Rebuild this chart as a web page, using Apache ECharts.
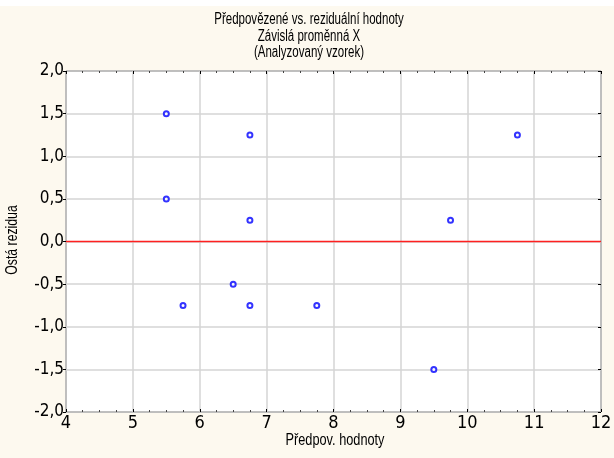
<!DOCTYPE html>
<html><head><meta charset="utf-8">
<script src="https://cdn.jsdelivr.net/npm/echarts@6/dist/echarts.min.js"></script>
<style>html,body{margin:0;padding:0;background:#fdf9ef}#c{width:614px;height:458px}</style>
</head><body><div id="c"></div>
<script>
var titleLines = ["Předpovězené vs. reziduální hodnoty", "Závislá proměnná X", "(Analyzovaný vzorek)"];
var xName = "Předpov. hodnoty";
var yName = "Ostá rezidua";
var predicted = [5.5, 5.5, 6.75, 6.75, 5.75, 6.5, 6.75, 7.75, 9.5, 9.75, 10.75];
var residuals = [1.5, 0.5, 1.25, 0.25, -0.75, -0.5, -0.75, -0.75, -1.5, 0.25, 1.25];
var refLine = 0;
var xRange = [4, 12];
var yRange = [-2, 2];
var FONT = "'Liberation Sans', Arial, sans-serif";
var TICKFONT = "'DejaVu Sans Condensed', 'Liberation Sans', sans-serif";

var pts = predicted.map(function (x, i) { return [x, residuals[i]]; });
var refPts = xRange.map(function (x) { return [x, refLine]; });

function txt(s, x, y, size, sx, rot) {
  return { type: 'text', x: x, y: y, scaleX: sx, rotation: rot || 0, z: 50,
    style: { text: s, textAlign: 'center', textVerticalAlign: 'middle',
      font: size + 'px ' + FONT, fill: '#000' } };
}
var graphics = [{ type: 'rect', x: 0, y: 0, shape: { width: 614, height: 6 }, style: { fill: '#ffffff' }, z: 100 }];
titleLines.forEach(function (s, i) { graphics.push(txt(s, 309, 20 + i * 16.5, 16, 0.72)); });
graphics.push(txt(xName, 335, 440, 17, 0.75));
graphics.push(txt(yName, 12, 240, 17, 0.72, Math.PI / 2));

var tickStyle = { color: '#000' };
var chart = echarts.init(document.getElementById('c'));
chart.setOption({
  backgroundColor: '#fdf9ef',
  animation: false,
  graphic: graphics,
  grid: { left: 66, top: 71, right: 13, bottom: 46, outerBoundsMode: 'none', containLabel: false,
    show: true, backgroundColor: '#ffffff', borderColor: '#000', borderWidth: 1 },
  xAxis: [{
    type: 'value', min: xRange[0], max: xRange[1], interval: 1, position: 'bottom',
    axisLine: { show: false, onZero: false },
    axisTick: { show: true, inside: true, length: 3, lineStyle: tickStyle },
    minorTick: { show: true, splitNumber: 4, length: 2, lineStyle: { color: '#444' } },
    axisLabel: { fontFamily: TICKFONT, fontSize: 18, color: '#000', margin: 2 },
    splitLine: { show: true, lineStyle: { color: '#d4d4d4', width: 1.5 } }
  }, {
    type: 'value', min: xRange[0], max: xRange[1], interval: 1, position: 'top',
    axisLine: { show: false, onZero: false },
    axisTick: { show: true, inside: true, length: 3, lineStyle: tickStyle },
    minorTick: { show: true, splitNumber: 4, length: 2, lineStyle: { color: '#444' } },
    axisLabel: { show: false }, splitLine: { show: false }
  }],
  yAxis: [{
    type: 'value', min: yRange[0], max: yRange[1], interval: 0.5, position: 'left',
    axisLine: { show: false, onZero: false },
    axisTick: { show: true, inside: false, length: 3, lineStyle: tickStyle },
    axisLabel: { fontFamily: TICKFONT, fontSize: 17, color: '#000', margin: 2,
      formatter: function (v) { return v.toFixed(1).replace('.', ','); } },
    splitLine: { show: true, lineStyle: { color: '#d4d4d4', width: 1.5 } }
  }, {
    type: 'value', min: yRange[0], max: yRange[1], interval: 0.5, position: 'right',
    axisLine: { show: false, onZero: false },
    axisTick: { show: true, inside: true, length: 3, lineStyle: tickStyle },
    axisLabel: { show: false }, splitLine: { show: false }
  }],
  series: [{
    type: 'line', data: refPts, symbol: 'none', silent: true, z: 10,
    color: '#ff2020',
    lineStyle: { color: '#ff2020', width: 1.5 }
  }, {
    type: 'scatter', data: pts, symbol: 'emptyCircle', symbolSize: 5, z: 11,
    itemStyle: { color: '#0000ff', borderColor: '#0000ff', borderWidth: 1.2 }
  }]
});
</script></body></html>
